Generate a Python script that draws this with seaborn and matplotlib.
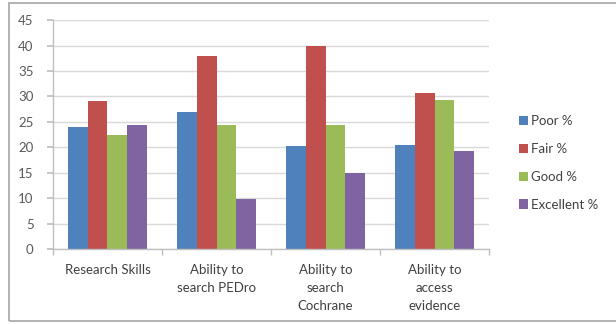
import matplotlib
matplotlib.use("Agg")
import matplotlib.pyplot as plt
import seaborn as sns
import pandas as pd
from matplotlib.patches import Rectangle, Patch

categories = ["Research Skills", "Ability to\nsearch PEDro", "Ability to\nsearch\nCochrane", "Ability to\naccess\nevidence"]
series = ["Poor %", "Fair %", "Good %", "Excellent %"]
poor = [24.0, 27.0, 20.2, 20.5]
fair = [29.0, 38.0, 40.0, 30.7]
good = [22.4, 24.4, 24.3, 29.2]
excellent = [24.4, 9.8, 15.0, 19.2]
colors = ["#4F81BD", "#C0504D", "#9BBB59", "#8064A2"]

rows = []
for s, vals in zip(series, [poor, fair, good, excellent]):
    for c, v in zip(categories, vals):
        rows.append({"category": c, "series": s, "value": v})
df = pd.DataFrame(rows)

sns.set_theme(style="white")
plt.rcParams["font.family"] = ["Lato", "DejaVu Sans"]

fig = plt.figure(figsize=(6.16, 3.24), dpi=100)
ax = fig.add_axes([0.086, 0.2315, 0.708, 0.7065])

sns.barplot(data=df, x="category", y="value", hue="series", order=categories,
            hue_order=series, palette=colors, width=0.72, saturation=1,
            ax=ax, legend=False, linewidth=0)

ax.set_ylim(0, 45)
ax.set_xlim(-0.5, 3.5)
ax.set_yticks(range(0, 46, 5))
ax.yaxis.grid(True, color="#D9D9D9", linewidth=1)
ax.set_axisbelow(True)
ax.set_xlabel("")
ax.set_ylabel("")
for side in ["top", "right"]:
    ax.spines[side].set_visible(False)
for side in ["left", "bottom"]:
    ax.spines[side].set_color("#BFBFBF")
    ax.spines[side].set_linewidth(1)

ax.tick_params(axis="y", labelsize=9.5, labelcolor="#595959", left=True,
               length=4, color="#BFBFBF", pad=10)
ax.set_xticks(range(len(categories)))
ax.set_xticklabels(categories, fontsize=9.5, color="#404040", linespacing=1.6,
                   va="top")
ax.tick_params(axis="x", bottom=False, pad=5)
ax.set_xticks([-0.5, 0.5, 1.5, 2.5, 3.5], minor=True)
ax.tick_params(axis="x", which="minor", bottom=True, length=4,
               color="#BFBFBF")

handles = [Patch(facecolor=c, edgecolor="none") for c in colors]
fig.legend(handles, series, loc="center left", bbox_to_anchor=(0.823, 0.497),
           frameon=False, fontsize=9.5, handlelength=0.7, handleheight=0.7,
           handletextpad=0.25, labelspacing=1.2, labelcolor="#404040")

fig.patches.append(Rectangle((9 / 616, 3 / 324), 1.0, 318 / 324,
                             transform=fig.transFigure, fill=False,
                             edgecolor="#A6A6A6", linewidth=1.2))

fig.savefig("out.png", dpi=100)
